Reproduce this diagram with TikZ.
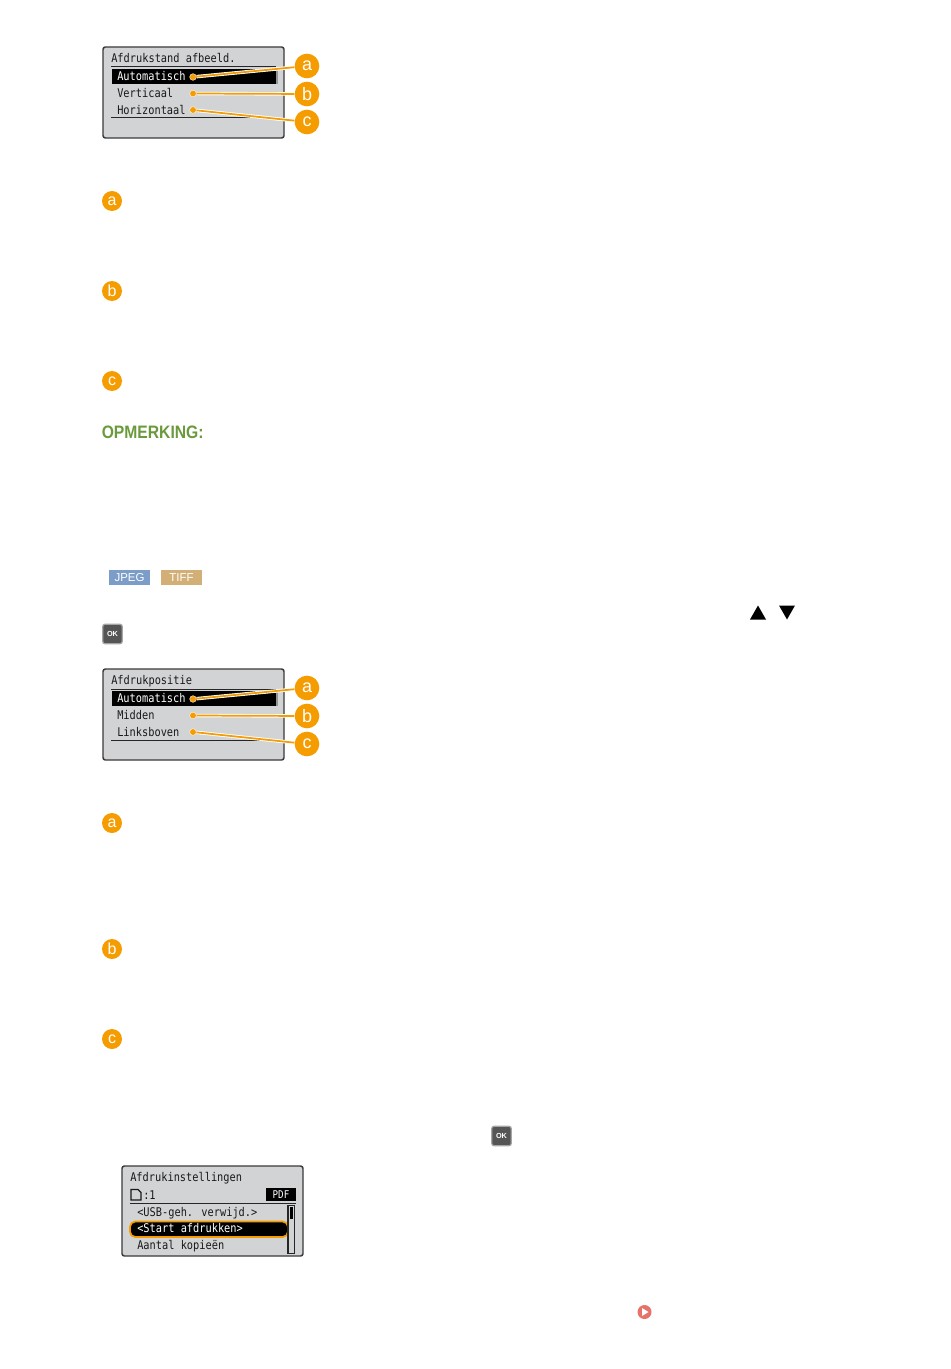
\documentclass[tikz,border=0pt]{standalone}
\usepackage{fontspec}
\setmainfont{Liberation Sans}
\newfontfamily\lcdfont[FakeStretch=0.86]{DejaVu Sans Mono}
\usetikzlibrary{calc}
\definecolor{lcdbg}{HTML}{D2D3D5}
\definecolor{lcdedge}{HTML}{3A3A3A}
\definecolor{mark}{HTML}{F59C00}
\definecolor{notegreen}{HTML}{6B9A3C}
\definecolor{jpegblue}{HTML}{7C9DC8}
\definecolor{tiffsand}{HTML}{D3AF78}
\definecolor{linkred}{HTML}{E5736A}
\definecolor{okdark}{HTML}{555555}
\tikzset{
  x=0.75pt,y=-0.75pt,
  lcd/.style={draw=lcdedge,line width=1.1pt,fill=lcdbg,rounded corners=1.8pt},
  lcdtext/.style={inner sep=0pt,anchor=base west,font=\lcdfont\fontsize{9}{10}\selectfont,text=black!90},
  lcdinv/.style={lcdtext,text=white},
  rule/.style={line width=0.75pt,draw=black!85},
  selbar/.style={fill=black},
  badge/.style={circle,fill=mark,inner sep=0pt,minimum size=18.5pt,text=white,font=\fontsize{13.5}{13.5}\selectfont},
  smallbadge/.style={circle,fill=mark,inner sep=0pt,minimum size=15pt,text=white,font=\fontsize{12}{12}\selectfont},
  dot/.style={circle,fill=mark,draw=white,line width=0.3pt,inner sep=0pt,minimum size=5pt},
  halo/.style={draw=white,line width=2.6pt},
  leader/.style={draw=mark,line width=1.3pt},
  tag/.style={inner sep=0pt,minimum width=30.75pt,minimum height=11pt,text=white,font=\fontsize{8.6}{9}\selectfont},
  okkey/.style={draw=black!35,line width=0.9pt,fill=okdark,rounded corners=1.5pt,inner sep=0pt,minimum size=14.5pt,text=white,font=\bfseries\fontsize{5.5}{5.5}\selectfont},
}
\begin{document}
\begin{tikzpicture}
\useasboundingbox (0,0) rectangle (950,1369);
\fill[white] (0,0) rectangle (950,1369);

% --- first screen
\draw[lcd] (103,47) rectangle (284,138);
\node[lcdtext] (t1) at (111,62.5) {Afdrukstand afbeeld.};
\draw[rule] (111,67) -- (276,67);
\fill[lcdbg!70!black] (272,69) rectangle (278,84);
\fill[selbar] (112,69) rectangle (276,84);
\node[lcdinv] (r1a) at (117,81) {Automatisch};
\node[lcdtext] (r1b) at (117,98) {Verticaal};
\node[lcdtext] (r1c) at (117,115) {Horizontaal};
\draw[rule] (111,118) -- (276,118);
\node[dot] (d1a) at (193,77) {};
\node[dot] (d1b) at (193,93.5) {};
\node[dot] (d1c) at (193,110) {};
\node[badge] (b1a) at (307,66) {a};
\node[badge] (b1b) at (307,94) {b};
\node[badge] (b1c) at (307,122) {c};
\foreach \s in {a,b,c}{
  \draw[halo] (d1\s) -- (b1\s);
  \draw[leader] (d1\s) -- (b1\s);
}

\node[smallbadge] (k1a) at (112,201) {a};
\node[smallbadge] (k1b) at (112,291) {b};
\node[smallbadge] (k1c) at (112,381) {c};

\node[inner sep=0pt,anchor=west,text=notegreen,font=\bfseries\fontsize{13.5}{14}\selectfont] (note) at (101.5,432.5) {\scalebox{0.87}[1]{OPMERKING:}};

\node[tag,fill=jpegblue] (jpeg) at (129.5,577.5) {JPEG};
\node[tag,fill=tiffsand] (tiff) at (181.5,577.5) {TIFF};

\fill[black] (750,619.5) -- (758,605.5) -- (766,619.5) -- cycle;
\fill[black] (779,605.5) -- (795,605.5) -- (787,619.5) -- cycle;

\node[okkey] (ok1) at (112.5,634) {OK};

% --- second screen
\draw[lcd] (103,669) rectangle (284,760);
\node[lcdtext] (t2) at (111,684.5) {Afdrukpositie};
\draw[rule] (111,689) -- (276,689);
\fill[lcdbg!70!black] (272,691) rectangle (278,706);
\fill[selbar] (112,691) rectangle (276,706);
\node[lcdinv] (r2a) at (117,702.5) {Automatisch};
\node[lcdtext] (r2b) at (117,719.5) {Midden};
\node[lcdtext] (r2c) at (117,736.5) {Linksboven};
\draw[rule] (111,740) -- (276,740);
\node[dot] (d2a) at (193,699) {};
\node[dot] (d2b) at (193,715.5) {};
\node[dot] (d2c) at (193,732) {};
\node[badge] (b2a) at (307,688) {a};
\node[badge] (b2b) at (307,716) {b};
\node[badge] (b2c) at (307,744) {c};
\foreach \s in {a,b,c}{
  \draw[halo] (d2\s) -- (b2\s);
  \draw[leader] (d2\s) -- (b2\s);
}

\node[smallbadge] (k2a) at (112,823) {a};
\node[smallbadge] (k2b) at (112,949) {b};
\node[smallbadge] (k2c) at (112,1039) {c};

\node[okkey] (ok2) at (501.5,1136) {OK};

% --- third screen
\draw[lcd] (122,1166) rectangle (303,1256);
\node[lcdtext] (t3) at (130,1181) {Afdrukinstellingen};
\draw[line width=1pt,draw=black!90,fill=lcdbg] (131,1200) -- (131,1189.5) -- (138,1189.5) -- (141,1192.5) -- (141,1200) -- cycle;
\node[lcdtext] (cnt) at (143,1199.5) {:1};
\node[fill=black,text=white,inner sep=0pt,minimum width=22.5pt,minimum height=9.75pt,font=\lcdfont\fontsize{8}{9}\selectfont] (pdf) at (281,1194.5) {PDF};
\draw[rule] (130,1203) -- (296,1203);
\node[lcdtext] (r3a) at (137,1216) {<USB-geh. verwijd.>};
\draw[draw=mark,line width=1.3pt,fill=black,rounded corners=4pt] (130,1221.5) rectangle (288,1237);
\node[lcdinv] (r3b) at (137,1232.5) {<Start afdrukken>};
\node[lcdtext] (r3c) at (137,1249.5) {Aantal kopieën};
\draw[line width=0.8pt,draw=black!85,fill=lcdbg] (288,1205.5) rectangle (294.5,1253.5);
\fill[black] (289.5,1207) rectangle (293,1219);

% --- link marker
\node[circle,fill=linkred,inner sep=0pt,minimum size=10.5pt] (link) at (644.5,1312) {};
\fill[white] (642,1308) -- (648.5,1312) -- (642,1316) -- cycle;
\end{tikzpicture}
\end{document}
